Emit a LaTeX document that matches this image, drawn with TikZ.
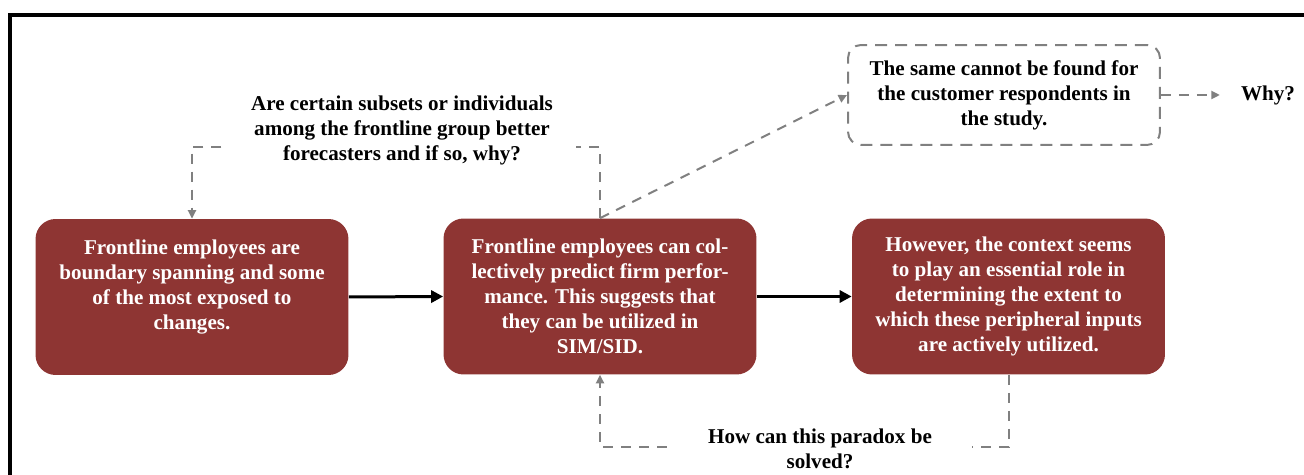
\documentclass[tikz,border=0pt]{standalone}
\usepackage{fontspec}
\setmainfont{Liberation Serif}
\usetikzlibrary{arrows.meta}
\definecolor{boxred}{RGB}{142,53,51}
\definecolor{dashgray}{RGB}{128,128,128}
\begin{document}
\begin{tikzpicture}[x=0.02cm,y=-0.02cm,
  every node/.style={font=\fontsize{12}{14.23}\selectfont\bfseries},
  redbox/.style={fill=boxred, text=white, rounded corners=0.4cm, minimum width=6.26cm, minimum height=3.12cm, align=center, inner sep=0pt},
  dashbox/.style={draw=dashgray, line width=0.04cm, dash pattern=on 0.24cm off 0.16cm, rounded corners=0.26cm, minimum width=6.24cm, minimum height=2cm, align=center, inner sep=0pt},
  qlabel/.style={fill=white, align=center, inner sep=0pt},
  dasharrow/.style={draw=dashgray, line width=0.04cm, dash pattern=on 0.2cm off 0.16cm, -{Triangle[length=0.17cm,width=0.16cm]}},
  solidarrow/.style={draw=black, line width=0.06cm, -{Triangle[length=0.24cm,width=0.24cm]}}
]
\useasboundingbox (0,0) rectangle (1304,475);
\draw[line width=0.08cm] (10,475) -- (10,15) -- (1304,15);

\node[redbox] (box1) at (192,297) {Frontline employees are\\boundary spanning and some\\of the most exposed to\\changes.\\\mbox{}};
\node[redbox] (box2) at (600,296.5) {Frontline employees can col-\\lectively predict firm perfor-\\mance. This suggests that\\they can be utilized in\\SIM/SID.};
\node[redbox] (box3) at (1008.5,296.5) {However, the context seems\\to play an essential role in\\determining the extent to\\which these peripheral inputs\\are actively utilized.};
\node[dashbox] (box4) at (1004,95) {The same cannot be found for\\the customer respondents in\\the study.};
\node (why) at (1268,95) {Why?};

\coordinate (topy) at (400,147);
\coordinate (boty) at (800,447);

\draw[solidarrow] (box1.east) -- (box2.west);
\draw[solidarrow] (box2.east) -- (box3.west);
\draw[dasharrow] (box2.north) -- (box4.west);
\draw[dasharrow, shorten >=0.3cm] (box4.east) -- (why.west);
\draw[dasharrow] (box2.north) -- (box2.north |- topy) -| (box1.north);
\draw[dasharrow] (box3.south) -- (box3.south |- boty) -| (box2.south);

\node[qlabel, minimum width=6.96cm] (q1) at (402,130) {Are certain subsets or individuals\\among the frontline group better\\forecasters and if so, why?};
\node[qlabel, minimum width=6.08cm] (q2) at (820,449) {How can this paradox be\\solved?};
\end{tikzpicture}
\end{document}
